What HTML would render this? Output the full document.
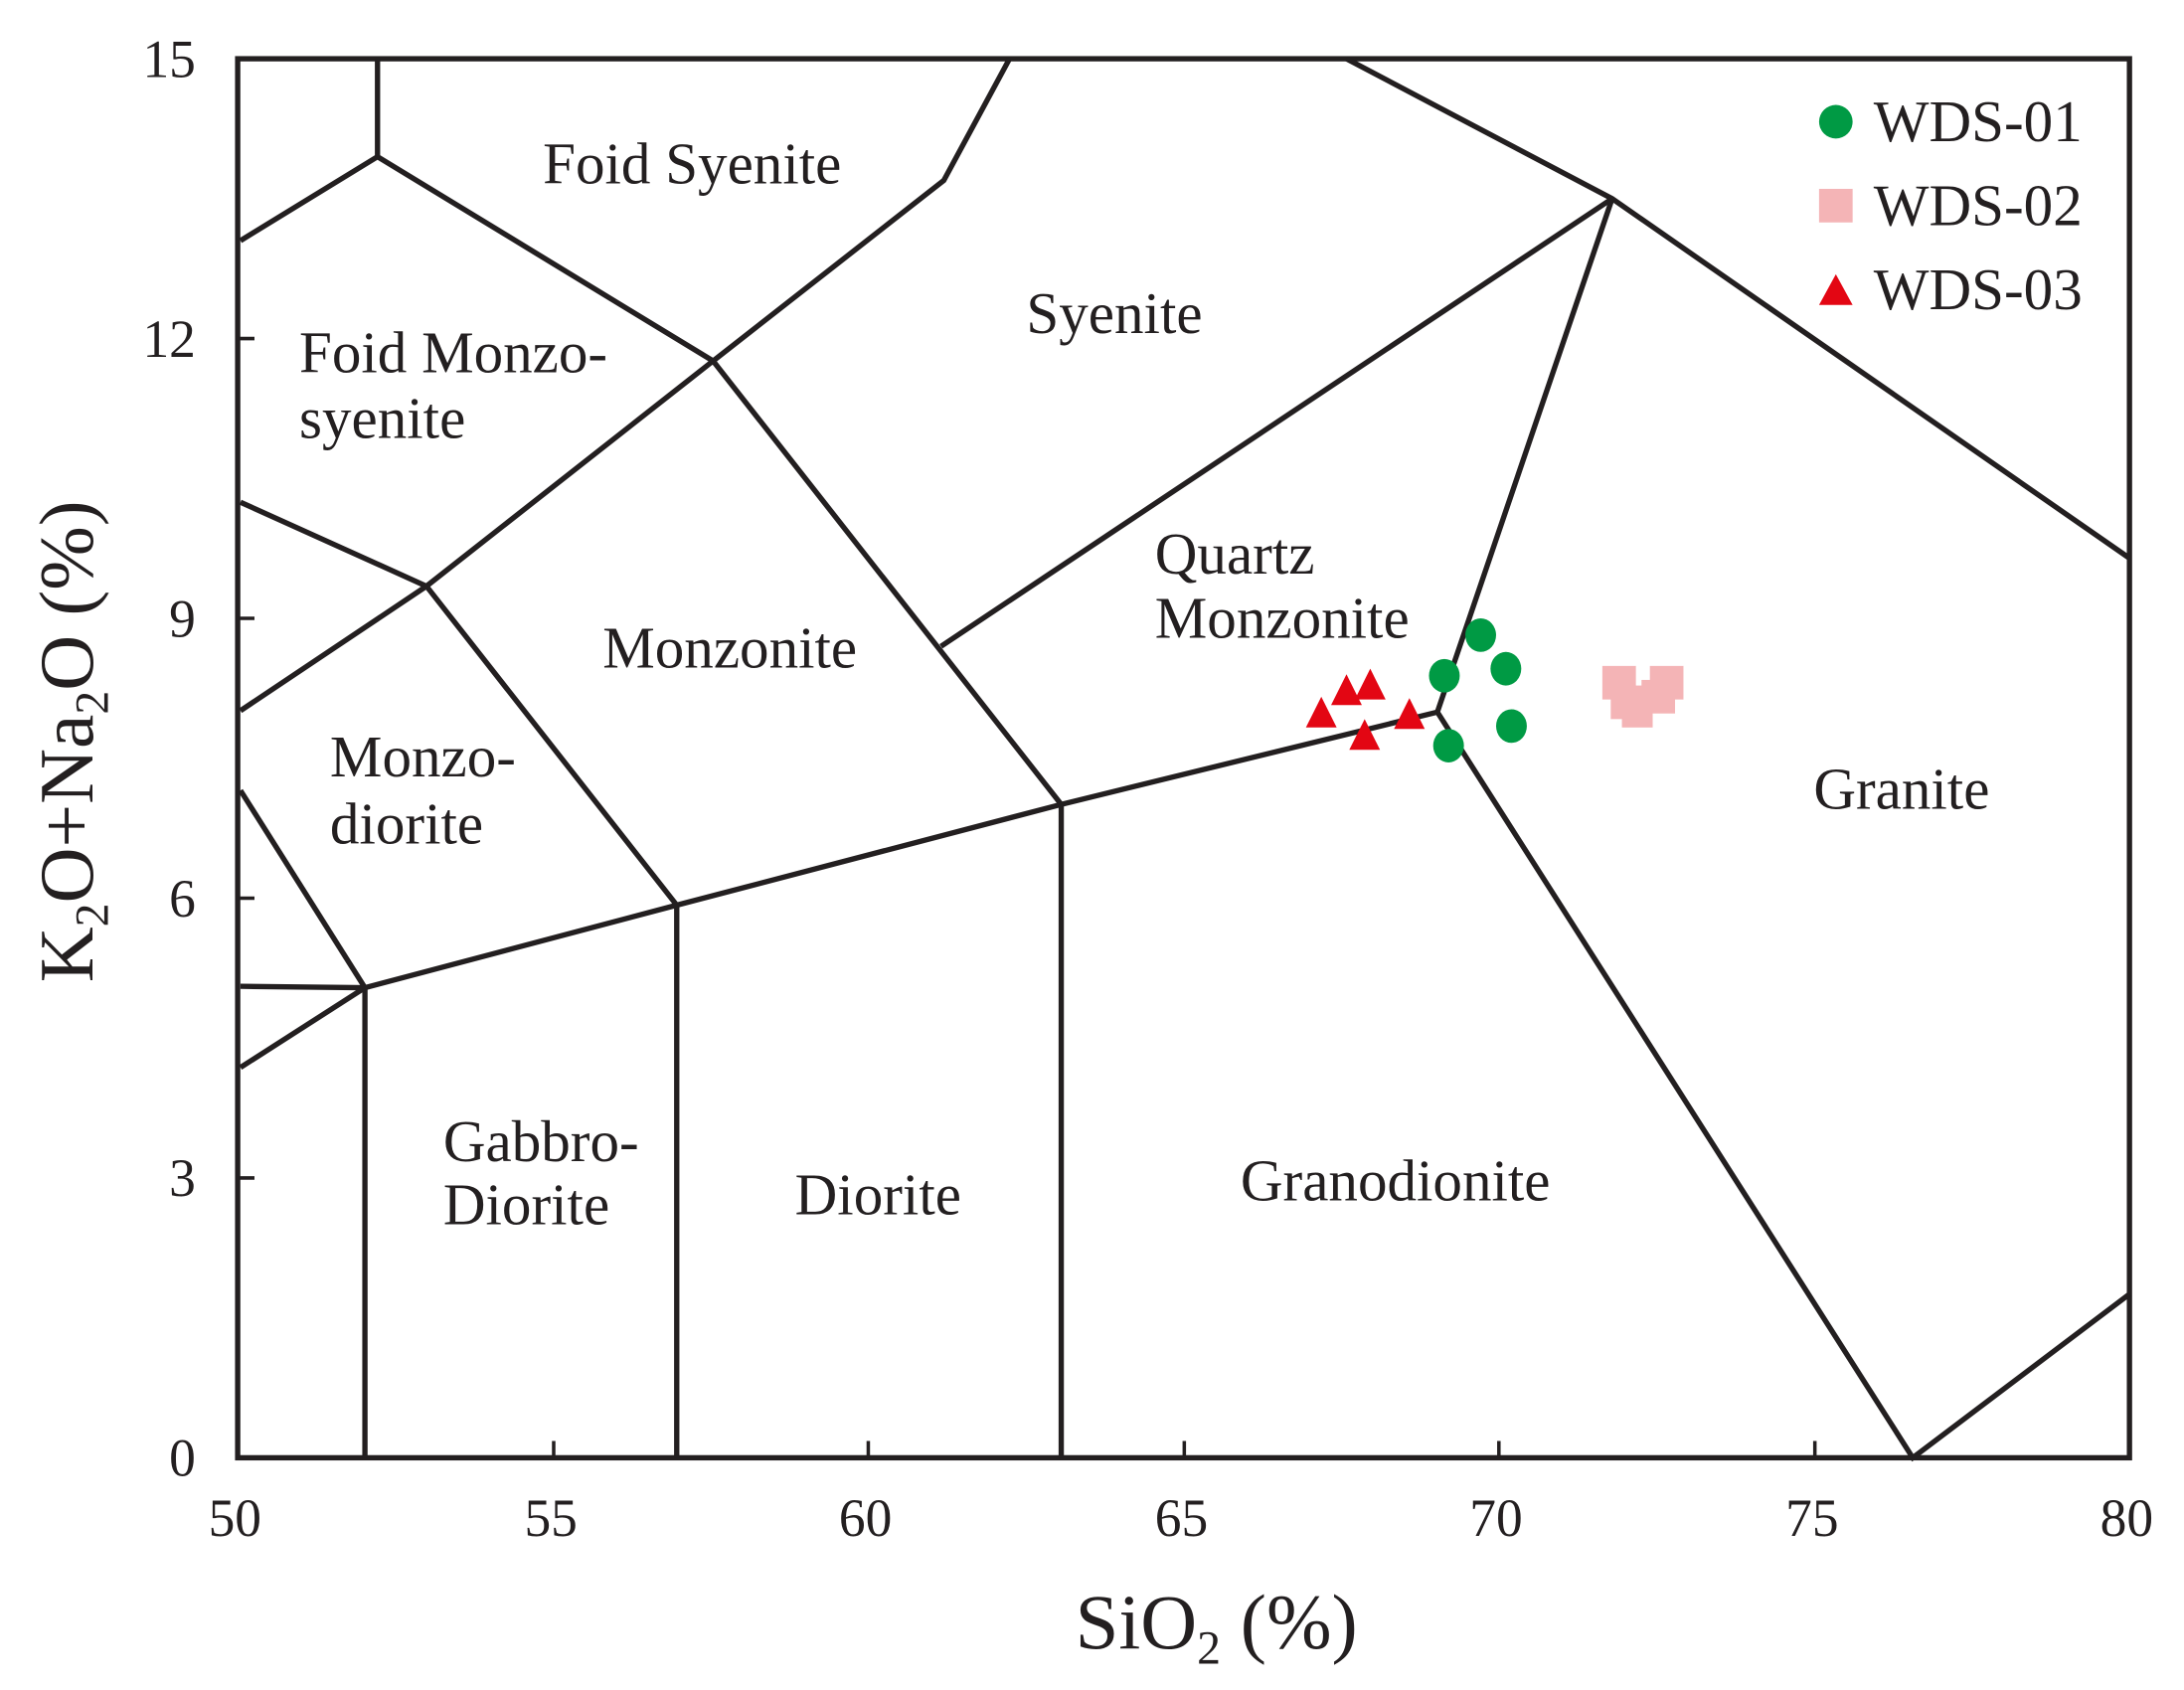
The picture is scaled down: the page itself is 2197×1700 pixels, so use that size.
<!DOCTYPE html>
<html><head><meta charset="utf-8"><style>
html,body{margin:0;padding:0;background:#fff;}
svg{display:block;}
text{font-family:"Liberation Serif",serif;fill:#231f20;}
</style></head><body>
<svg width="2197" height="1700" viewBox="0 0 1562 1208" preserveAspectRatio="none" xmlns="http://www.w3.org/2000/svg">
<g stroke="#231f20" stroke-width="3.8" fill="none" stroke-linejoin="miter">
<rect x="170" y="42" width="1353" height="1000"/>
<polyline points="270,42 270,112"/>
<polyline points="172,172 270,112 510,258 675,129 722,42"/>
<polyline points="510,258 305,419 172,508"/>
<polyline points="172,359 305,419 484,647"/>
<polyline points="510,258 759,575"/>
<polyline points="172,565 261,706"/>
<polyline points="172,705 261,706"/>
<polyline points="172,763 261,706"/>
<polyline points="261,706 484,647 759,575 1028,509"/>
<polyline points="261,706 261,1042"/>
<polyline points="484,647 484,1042"/>
<polyline points="759,575 759,1042"/>
<polyline points="673,462 1153,142"/>
<polyline points="963,42 1153,142 1523,399"/>
<polyline points="1153,142 1028,509 1368,1042 1523,925"/>
<g stroke-width="2.5">
<line x1="396" y1="1042" x2="396" y2="1030"/>
<line x1="621" y1="1042" x2="621" y2="1030"/>
<line x1="847" y1="1042" x2="847" y2="1030"/>
<line x1="1072" y1="1042" x2="1072" y2="1030"/>
<line x1="1298" y1="1042" x2="1298" y2="1030"/>
<line x1="170" y1="842" x2="182" y2="842"/>
<line x1="170" y1="642" x2="182" y2="642"/>
<line x1="170" y1="442" x2="182" y2="442"/>
<line x1="170" y1="242" x2="182" y2="242"/>
</g>
</g>
<g font-size="42">
<text x="495" y="131" text-anchor="middle">Foid Syenite</text>
<text x="214" y="266">Foid Monzo-</text>
<text x="214" y="313">syenite</text>
<text x="797" y="238" text-anchor="middle">Syenite</text>
<text x="826" y="410">Quartz</text>
<text x="826" y="456">Monzonite</text>
<text x="522" y="477" text-anchor="middle">Monzonite</text>
<text x="236" y="555">Monzo-</text>
<text x="236" y="603">diorite</text>
<text x="1360" y="578" text-anchor="middle">Granite</text>
<text x="317" y="830">Gabbro-</text>
<text x="317" y="875">Diorite</text>
<text x="628" y="868" text-anchor="middle">Diorite</text>
<text x="998" y="858" text-anchor="middle">Granodionite</text>
</g>
<g font-size="38" text-anchor="end">
<text x="140" y="1055">0</text>
<text x="140" y="855">3</text>
<text x="140" y="655">6</text>
<text x="140" y="455">9</text>
<text x="140" y="255">12</text>
<text x="140" y="55">15</text>
</g>
<g font-size="38" text-anchor="middle">
<text x="168" y="1098">50</text>
<text x="394" y="1098">55</text>
<text x="619" y="1098">60</text>
<text x="845" y="1098">65</text>
<text x="1070" y="1098">70</text>
<text x="1296" y="1098">75</text>
<text x="1521" y="1098">80</text>
</g>
<text x="870" y="1178" font-size="56" text-anchor="middle">SiO<tspan font-size="34" dy="11">2</tspan><tspan dy="-11"> (%)</tspan></text>
<text transform="translate(66,530) rotate(-90)" font-size="55" text-anchor="middle">K<tspan font-size="34" dy="11">2</tspan><tspan dy="-11">O+Na</tspan><tspan font-size="34" dy="11">2</tspan><tspan dy="-11">O (%)</tspan></text>
<g fill="#f4b4b6">
<rect x="1146" y="476" width="24" height="24"/>
<rect x="1180" y="476" width="24" height="24"/>
<rect x="1152" y="490" width="24" height="24"/>
<rect x="1174" y="486" width="24" height="24"/>
<rect x="1160" y="500" width="22" height="20"/>
<rect x="1301" y="135" width="24" height="24"/>
</g>
<g fill="#e30613">
<polygon points="945,498 934,520 956,520"/>
<polygon points="963,482 952,504 974,504"/>
<polygon points="980,478 969,500 991,500"/>
<polygon points="976,514 965,536 987,536"/>
<polygon points="1008,499 997,521 1019,521"/>
<polygon points="1313,196 1301,218 1325,218"/>
</g>
<g fill="#009a44">
<ellipse cx="1033" cy="483" rx="11" ry="12"/>
<ellipse cx="1059" cy="454" rx="11" ry="12"/>
<ellipse cx="1077" cy="478" rx="11" ry="12"/>
<ellipse cx="1081" cy="519" rx="11" ry="12"/>
<ellipse cx="1036" cy="533" rx="11" ry="12"/>
<circle cx="1313" cy="87" r="12"/>
</g>
<g font-size="42">
<text x="1340" y="101">WDS-01</text>
<text x="1340" y="161">WDS-02</text>
<text x="1340" y="221">WDS-03</text>
</g>
</svg>
</body></html>
